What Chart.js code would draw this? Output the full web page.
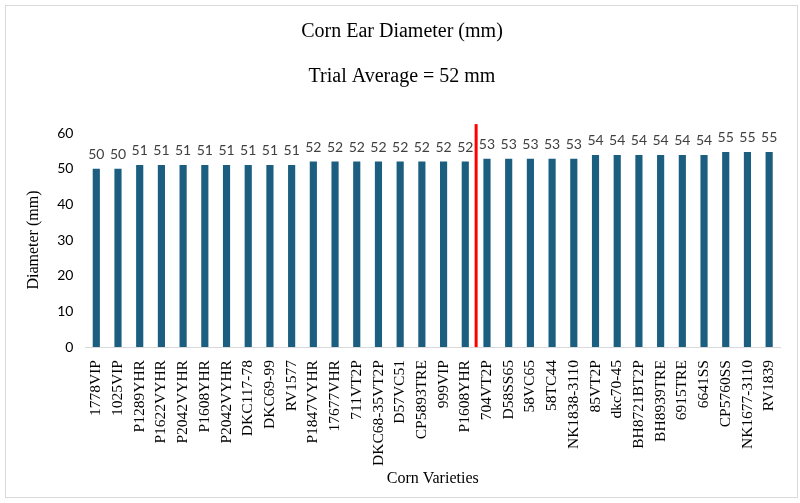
<!DOCTYPE html>
<html>
<head>
<meta charset="utf-8">
<script src="https://cdn.jsdelivr.net/npm/chart.js@4/dist/chart.umd.min.js"></script>
<style>
  html, body { margin: 0; padding: 0; background: #fff; }
  #wrap { position: relative; width: 800px; height: 503px; }
  #frame { position: absolute; left: 5px; top: 5px; right: 2px; bottom: 5px; border: 1px solid #d9d9d9; box-sizing: border-box; }
  canvas { position: absolute; left: 0; top: 0; }
</style>
</head>
<body>
<div id="wrap">
  <div id="frame"></div>
  <canvas id="chart" width="800" height="503"></canvas>
</div>
<script>
// Corn varieties, left to right
const varieties = [
  '1778VIP', '1025VIP', 'P1289YHR', 'P1622VYHR', 'P2042VYHR', 'P1608YHR', 'P2042VYHR',
  'DKC117-78', 'DKC69-99', 'RV1577', 'P1847VYHR', '17677VHR', '711VT2P', 'DKC68-35VT2P',
  'D57VC51', 'CP5893TRE', '999VIP', 'P1608YHR', '704VT2P', 'D58SS65', '58VC65', '58TC44',
  'NK1838-3110', '85VT2P', 'dkc70-45', 'BH8721BT2P', 'BH8939TRE', '6915TRE', '6641SS',
  'CP5760SS', 'NK1677-3110', 'RV1839'
];

// Ear diameter (mm)
const diameters = [
  50.0, 50.0, 51.0, 51.0, 51.0, 51.0, 51.0, 51.0, 51.0, 51.0,
  52.0, 52.0, 52.0, 52.0, 52.0, 52.0, 52.0, 52.0,
  52.8, 52.8, 52.8, 52.8, 52.8,
  53.8, 53.8, 53.8, 53.8, 53.8, 53.8,
  54.7, 54.7, 54.7
];

const yTicks = [0, 10, 20, 30, 40, 50, 60];

// Trial average marker sits between these two categories
const avgAfterIndex = 17;
const avgLineTop = 62.5;

// Draws the rounded value above each bar
const barLabels = {
  id: 'barLabels',
  afterDatasetsDraw(chart) {
    const ctx = chart.ctx;
    const meta = chart.getDatasetMeta(0);
    ctx.save();
    ctx.font = '14px Lato, "Liberation Sans", sans-serif';
    ctx.fillStyle = '#404040';
    ctx.textAlign = 'center';
    ctx.textBaseline = 'alphabetic';
    meta.data.forEach((bar, i) => {
      ctx.fillText(Math.round(diameters[i]), bar.x, bar.y - 10);
    });
    ctx.restore();
  }
};

// Red vertical line for the trial average
const averageLine = {
  id: 'averageLine',
  afterDatasetsDraw(chart) {
    const x = chart.scales.x;
    const y = chart.scales.y;
    const px = (x.getPixelForValue(avgAfterIndex) + x.getPixelForValue(avgAfterIndex + 1)) / 2;
    const ctx = chart.ctx;
    ctx.save();
    ctx.strokeStyle = '#ff0000';
    ctx.lineWidth = 3;
    ctx.beginPath();
    ctx.moveTo(px, y.getPixelForValue(0));
    ctx.lineTo(px, y.getPixelForValue(avgLineTop));
    ctx.stroke();
    ctx.restore();
  }
};

const serif = '"Liberation Serif", "Times New Roman", serif';

new Chart(document.getElementById('chart').getContext('2d'), {
  type: 'bar',
  data: {
    labels: varieties,
    datasets: [{
      label: 'Diameter (mm)',
      data: diameters,
      backgroundColor: '#1b5e7f',
      borderWidth: 0,
      barPercentage: 0.33,
      categoryPercentage: 1
    }]
  },
  options: {
    responsive: false,
    animation: false,
    layout: {
      padding: { left: 24, right: 20, top: 0, bottom: 16 }
    },
    plugins: {
      legend: { display: false },
      tooltip: { enabled: false },
      title: {
        display: true,
        text: 'Corn Ear Diameter (mm)',
        color: '#000',
        font: { family: serif, size: 20, weight: 'normal' },
        padding: { top: 20, bottom: 21 }
      },
      subtitle: {
        display: true,
        text: 'Trial Average = 52 mm',
        color: '#000',
        font: { family: serif, size: 20, weight: 'normal' },
        padding: { top: 0, bottom: 44 }
      }
    },
    scales: {
      x: {
        grid: { display: false },
        border: { color: '#d9d9d9', width: 1 },
        ticks: {
          color: '#000',
          minRotation: 90,
          maxRotation: 90,
          autoSkip: false,
          padding: 5,
          font: { family: serif, size: 15.5 }
        },
        title: {
          display: true,
          text: 'Corn Varieties',
          color: '#000',
          font: { family: serif, size: 16, lineHeight: 1 },
          padding: { top: 0, bottom: 0 }
        }
      },
      y: {
        min: 0,
        max: 60,
        afterBuildTicks(axis) {
          axis.ticks = yTicks.map(v => ({ value: v }));
        },
        grid: { display: false },
        border: { display: false },
        ticks: {
          color: '#000',
          padding: 4,
          font: { family: 'Lato, "Liberation Sans", sans-serif', size: 14 }
        },
        title: {
          display: true,
          text: 'Diameter (mm)',
          color: '#000',
          font: { family: serif, size: 16 },
          padding: { top: 0, bottom: 10 }
        }
      }
    }
  },
  plugins: [barLabels, averageLine]
});
</script>
</body>
</html>
